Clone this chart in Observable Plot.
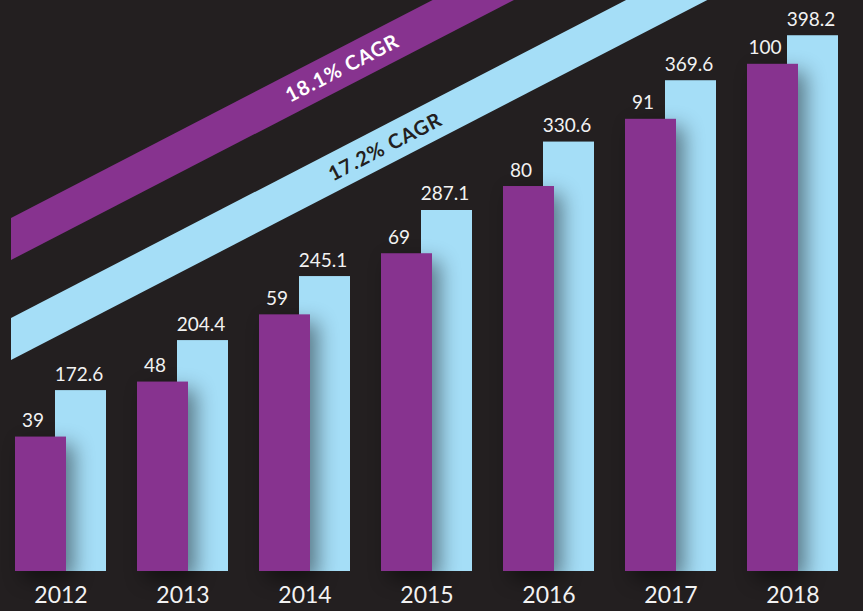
<!DOCTYPE html>
<html><head><meta charset="utf-8">
<script src="https://cdn.jsdelivr.net/npm/d3@7"></script>
<script src="https://cdn.jsdelivr.net/npm/@observablehq/plot@0.6"></script>
<style>
html,body{margin:0;padding:0;background:#231f20;}
#chart{position:relative;width:863px;height:611px;overflow:hidden;background:#231f20;}
#chart svg{position:absolute;left:0;top:0;}
</style></head><body><div id="chart"></div>
<script>
// ---- data ----
const years = ["2012","2013","2014","2015","2016","2017","2018"];
const purpleValues = [39, 48, 59, 69, 80, 91, 100];
const blueValues = [172.6, 204.4, 245.1, 287.1, 330.6, 369.6, 398.2];
const cagrLabels = ["18.1% CAGR", "17.2% CAGR"];

// ---- styling / layout ----
const PURPLE = "#87338f", BLUE = "#a5def7", BG = "#231f20", TEXT = "#f2f2f2";
const W = 863, H = 611;
const purpleData = years.map((year, i) => ({year, value: purpleValues[i]}));
const blueData = years.map((year, i) => ({year, value: blueValues[i]}));

const common = {
  width: W, height: H, marginTop: 0, marginBottom: 40, marginLeft: 0, marginRight: 0,
  style: {background: "transparent", fontFamily: "Lato, 'Open Sans', sans-serif", color: TEXT}
};
const xBand = {type: "band", domain: years, range: [13.1, 839.9], paddingInner: 0.258, paddingOuter: 0};
const yPurple = {domain: [17, 110.44], clamp: true, axis: null};
const yBlue = {domain: [57.6, 420.6], clamp: true, axis: null};

// decorative CAGR ribbons, expressed in chart units (year, purple-scale)
const ribbonPurple = [{x: 2011.612, y1: 67.89, y2: 74.77}, {x: 2016.504, y1: 118.65, y2: 125.53}];
const ribbonBlue = [{x: 2011.612, y1: 51.53, y2: 58.40}, {x: 2018.559, y1: 123.61, y2: 130.48}];
const ribbonAngle = -27.3;

const ribbons = Plot.plot({
  ...common,
  x: {domain: [2012, 2018], range: [58.6, 794.4], axis: null},
  y: {domain: [17, 110.44], axis: null},
  marks: [
    Plot.areaY(ribbonPurple, {x: "x", y1: "y1", y2: "y2", fill: PURPLE}),
    Plot.areaY(ribbonBlue, {x: "x", y1: "y1", y2: "y2", fill: BLUE}),
    Plot.text([cagrLabels[0]], {x: 2014.311, y: 99.31, text: d => d, rotate: ribbonAngle,
      fill: "#ffffff", fontSize: 20, fontWeight: "bold"}),
    Plot.text([cagrLabels[1]], {x: 2014.661, y: 86.45, text: d => d, rotate: ribbonAngle,
      fill: BG, fontSize: 20, fontWeight: "bold"})
  ]
});
ribbons.style.letterSpacing = "1px";

const blue = Plot.plot({
  ...common,
  x: {...xBand, axis: null},
  y: yBlue,
  marks: [
    Plot.barY(blueData, {x: "year", y: "value", fill: BLUE, insetLeft: 40}),
    Plot.text(blueData, {x: "year", y: "value", text: d => String(d.value), dx: 18, dy: -10,
      lineAnchor: "bottom", fill: TEXT, fontSize: 19})
  ]
});

const purple = Plot.plot({
  ...common,
  x: xBand,
  y: yPurple,
  marks: [
    Plot.barY(purpleData, {x: "year", y: "value", fill: PURPLE, insetRight: 40}),
    Plot.text(purpleData, {x: "year", y: "value", text: d => String(d.value), dx: -28, dy: -10,
      lineAnchor: "bottom", fill: TEXT, fontSize: 19}),
    Plot.axisX({tickSize: 0, tickPadding: 15, fontSize: 23, fill: TEXT, label: null})
  ]
});
const barG = purple.querySelector('g[aria-label="bar"]');
if (barG) barG.style.filter = "drop-shadow(8px 8px 10px rgba(0,0,0,0.45))";

const chart = document.getElementById("chart");
chart.append(ribbons, blue, purple);
</script></body></html>
